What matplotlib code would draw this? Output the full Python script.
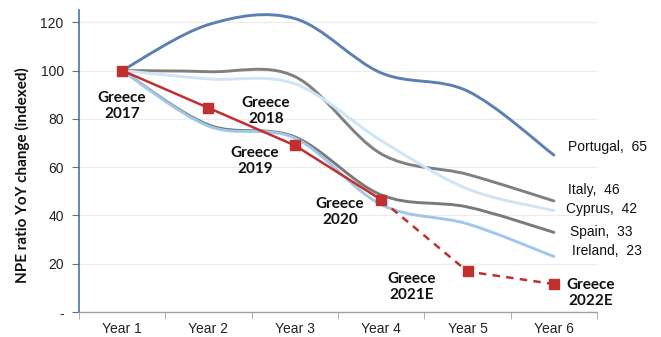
import numpy as np
import matplotlib
matplotlib.use("Agg")
import matplotlib.pyplot as plt
from matplotlib.path import Path
from matplotlib.patches import PathPatch

years = ["Year 1", "Year 2", "Year 3", "Year 4", "Year 5", "Year 6"]

portugal = [100, 119, 121.5, 99, 91.5, 65]
italy = [100, 99.5, 97.5, 65.5, 57, 46]
cyprus = [100, 96.5, 94.5, 71, 51, 42]
spain = [100, 77.5, 72.5, 48.5, 43.5, 33]
ireland = [100, 77, 72, 44.5, 36.5, 23]
greece = [100, 84.5, 69, 46.5, 16.8, 11.6]
greece_labels = ["Greece\n2017", "Greece\n2018", "Greece\n2019", "Greece\n2020",
                 "Greece\n2021E", "Greece\n2022E"]

yticks = [0, 20, 40, 60, 80, 100, 120]
ytick_labels = ["-", "20", "40", "60", "80", "100", "120"]


def smooth_path(xs, ys):
    # cubic bezier through every point, like a spreadsheet "smoothed line"
    pts = np.column_stack([xs, ys]).astype(float)
    n = len(pts)
    verts = [pts[0]]
    codes = [Path.MOVETO]
    for i in range(n - 1):
        p0 = pts[i - 1] if i > 0 else pts[i]
        p1 = pts[i]
        p2 = pts[i + 1]
        p3 = pts[i + 2] if i + 2 < n else pts[i + 1]
        c1 = p1 + (p2 - p0) / 6.0
        c2 = p2 - (p3 - p1) / 6.0
        verts += [c1, c2, p2]
        codes += [Path.CURVE4] * 3
    return Path(verts, codes)


fig = plt.figure(figsize=(6.61, 3.37), dpi=100)
ax = fig.add_axes([0.1195, 0.074, 0.7837, 0.896])

x = np.arange(len(years))

series = [
    (italy, "#808080", "Italy,  46", 190),
    (spain, "#7a7a7a", "Spain,  33", 232),
    (cyprus, "#cfe5f7", "Cyprus,  42", 209),
    (ireland, "#9fc7ea", "Ireland,  23", 251),
    (portugal, "#5b80b1", "Portugal,  65", 147),
]
label_x = {"Italy,  46": 568, "Spain,  33": 570, "Cyprus,  42": 566,
           "Ireland,  23": 572, "Portugal,  65": 568}

for vals, col, lab, ypix in series:
    patch = PathPatch(smooth_path(x, vals), facecolor="none", edgecolor=col,
                      lw=2.1, capstyle="round", zorder=3)
    ax.add_patch(patch)
    fig.text(label_x[lab] / 661, 1 - ypix / 337, lab, fontsize=10,
             family="Liberation Sans", color="#111111", va="center", ha="left")

# Greece: actual values solid, estimates dashed
ax.plot(x[:4], greece[:4], color="#c0302f", lw=1.8, zorder=5)
ax.plot(x[3:], greece[3:], color="#c0302f", lw=1.8, ls=(0, (3, 2.5)), zorder=5)
ax.plot(x, greece, ls="none", marker="s", ms=6.5, color="#c0302f", zorder=6)

label_pos = [(122, 106), (266, 111), (255, 161), (340, 212), (412, 287), (566, 293)]
for lab, (px, py) in zip(greece_labels, label_pos):
    ha = "left" if lab.endswith("2022E") else "center"
    fig.text(px / 661, 1 - py / 337, lab, fontsize=11, family="Lato",
             fontweight="bold", color="#111111", ha=ha, va="center",
             linespacing=1.2, multialignment="center")

ax.set_xlim(-0.5, 5.5)
ax.set_ylim(0, 125)
ax.set_yticks(yticks)
ax.set_yticklabels(ytick_labels, fontsize=10, family="Liberation Sans", color="#222222")
ax.set_xticks(x)
ax.set_xticklabels(years, fontsize=10, family="Liberation Sans", color="#222222")
ax.set_xticks(np.arange(-0.5, 6, 1), minor=True)
ax.tick_params(axis="x", which="major", length=0, pad=7)
ax.tick_params(axis="x", which="minor", length=5, color="#a0a0a0")
ax.tick_params(axis="y", length=5, color="#4a72a6", pad=6)

for yv in yticks[1:]:
    ax.axhline(yv, color="#ececec", lw=0.9, zorder=1)

for s in ["top", "right"]:
    ax.spines[s].set_visible(False)
ax.spines["left"].set_color("#4a72a6")
ax.spines["left"].set_linewidth(1.2)
ax.spines["bottom"].set_color("#a0a0a0")
ax.spines["bottom"].set_linewidth(1.0)

fig.text(22 / 661, 1 - 175 / 337, "NPE ratio YoY change (indexed)", rotation=90,
         fontsize=11, family="Lato", fontweight="bold", color="#111111",
         ha="center", va="center")

fig.savefig("out.png", dpi=100)
